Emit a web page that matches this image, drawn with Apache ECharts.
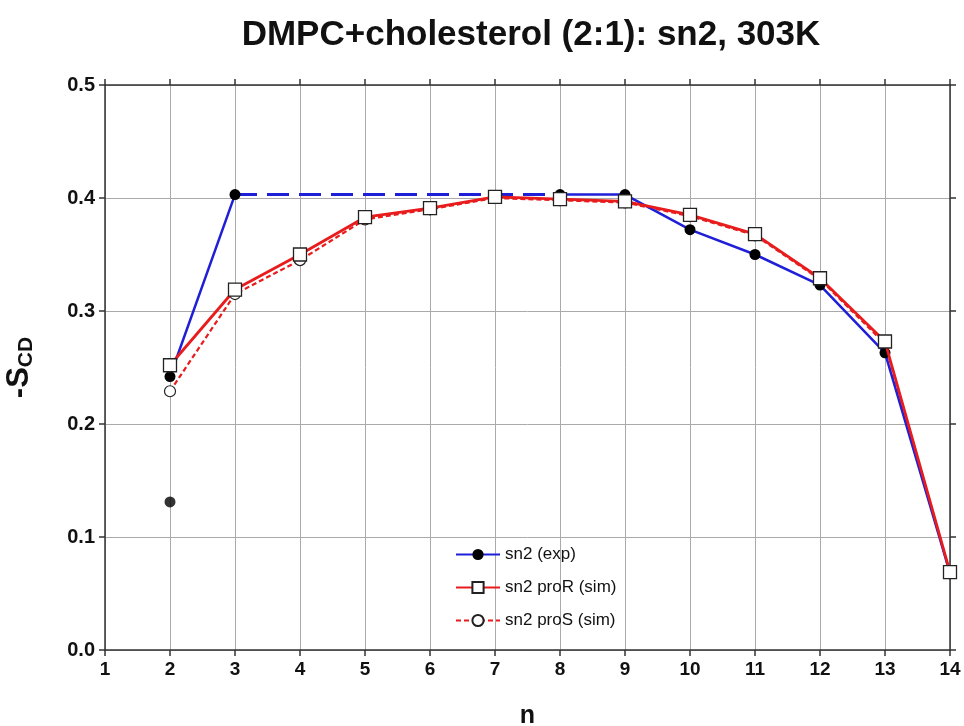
<!DOCTYPE html>
<html><head><meta charset="utf-8">
<script src="https://cdn.jsdelivr.net/npm/echarts@6/dist/echarts.min.js"></script>
<style>html,body{margin:0;padding:0;background:#fff}#c{width:964px;height:726px}</style>
</head><body><div id="c"></div>
<script>
const nExp = [2, 3, 8, 9, 10, 11, 12, 13, 14];
const sExp = [0.242, 0.403, 0.403, 0.403, 0.372, 0.350, 0.323, 0.263, 0.068];
const nExpDash = [3, 8];
const sExpDash = [0.403, 0.403];
const nExpExtra = [2];
const sExpExtra = [0.131];
const nSim = [2, 3, 4, 5, 6, 7, 8, 9, 10, 11, 12, 13, 14];
const sProR = [0.252, 0.319, 0.350, 0.383, 0.391, 0.401, 0.399, 0.397, 0.385, 0.368, 0.329, 0.273, 0.069];
const sProS = [0.229, 0.315, 0.345, 0.381, 0.390, 0.400, 0.398, 0.396, 0.384, 0.367, 0.328, 0.271, 0.068];

const pair = (xs, ys) => xs.map((x, i) => [x, ys[i]]);
const expSolid = [[nExp[0], sExp[0]], [nExp[1], sExp[1]], '-'].concat(pair(nExp.slice(2), sExp.slice(2)));

const font = 'Liberation Sans';
const axisCol = '#333';
const chart = echarts.init(document.getElementById('c'));
chart.setOption({
  animation: false,
  backgroundColor: '#fff',
  title: {
    text: 'DMPC+cholesterol (2:1): sn2, 303K',
    left: 526, textAlign: 'center', top: 13,
    textStyle: {fontFamily: font, fontSize: 35, fontWeight: 'bold', color: '#111'}
  },
  grid: {left: 105, right: 14, top: 85, bottom: 76, containLabel: false, outerBoundsMode: 'none'},
  legend: {
    data: ['sn2 (exp)', 'sn2 proR (sim)', 'sn2 proS (sim)'],
    orient: 'vertical', left: 450, top: 541,
    itemWidth: 44, itemHeight: 14, itemGap: 16,
    textStyle: {fontFamily: font, fontSize: 17, color: '#111'}
  },
  xAxis: [{
    type: 'value', min: 1, max: 14, interval: 1,
    name: 'n', nameLocation: 'middle', nameGap: 54,
    nameTextStyle: {fontFamily: font, fontSize: 25, fontWeight: 'bold', color: '#111'},
    axisLine: {show: true, onZero: false, lineStyle: {color: axisCol, width: 1.5}},
    axisTick: {show: true, length: 6, lineStyle: {color: axisCol, width: 1.5}},
    axisLabel: {fontFamily: font, fontSize: 19, fontWeight: 'bold', color: '#111', margin: 10},
    splitLine: {show: true, lineStyle: {color: '#aaa', width: 1}}
  }, {
    type: 'value', min: 1, max: 14, interval: 1, position: 'top',
    axisLine: {show: true, onZero: false, lineStyle: {color: axisCol, width: 1.5}},
    axisTick: {show: true, length: 6, lineStyle: {color: axisCol, width: 1.5}},
    axisLabel: {show: false}, splitLine: {show: false}
  }],
  yAxis: [{
    type: 'value', min: 0, max: 0.5, interval: 0.1,
    name: '{a|-S}{b|CD}', nameLocation: 'middle', nameGap: 68, nameRotate: 90,
    nameTextStyle: {
      rich: {
        a: {fontFamily: font, fontSize: 31, fontWeight: 'bold', color: '#111'},
        b: {fontFamily: font, fontSize: 21, fontWeight: 'bold', color: '#111', verticalAlign: 'bottom', padding: [14, 0, 0, 0]}
      }
    },
    axisLine: {show: true, onZero: false, lineStyle: {color: axisCol, width: 1.5}},
    axisTick: {show: true, length: 6, lineStyle: {color: axisCol, width: 1.5}},
    axisLabel: {fontFamily: font, fontSize: 20, fontWeight: 'bold', color: '#111', margin: 10,
      formatter: v => v.toFixed(1)},
    splitLine: {show: true, lineStyle: {color: '#aaa', width: 1}}
  }, {
    type: 'value', min: 0, max: 0.5, interval: 0.1, position: 'right',
    axisLine: {show: true, onZero: false, lineStyle: {color: axisCol, width: 1.5}},
    axisTick: {show: true, length: 6, lineStyle: {color: axisCol, width: 1.5}},
    axisLabel: {show: false}, splitLine: {show: false}
  }],
  series: [
    {
      name: 'sn2 proS (sim)', type: 'line', data: pair(nSim, sProS),
      symbol: 'circle', symbolSize: 11, z: 2,
      lineStyle: {color: '#e81c1c', width: 2.2, type: [5, 3]},
      itemStyle: {color: '#fff', borderColor: '#222', borderWidth: 1.2}
    },
    {
      name: 'sn2 exp dashed', type: 'line', data: pair(nExpDash, sExpDash),
      symbol: 'none', z: 3,
      lineStyle: {color: '#1f1fd8', width: 3, type: [22, 10]}
    },
    {
      name: 'sn2 (exp)', type: 'line', data: expSolid, connectNulls: false,
      symbol: 'circle', symbolSize: 11, z: 3,
      lineStyle: {color: '#1f1fd8', width: 2.5},
      itemStyle: {color: '#000', borderColor: '#000', borderWidth: 0}
    },
    {
      name: 'sn2 exp extra', type: 'scatter', data: pair(nExpExtra, sExpExtra),
      symbol: 'circle', symbolSize: 11, z: 3,
      itemStyle: {color: '#000'}
    },
    {
      name: 'sn2 proR (sim)', type: 'line', data: pair(nSim, sProR),
      symbol: 'rect', symbolSize: 13, z: 4,
      lineStyle: {color: '#e81c1c', width: 2.8},
      itemStyle: {color: '#fff', borderColor: '#222', borderWidth: 1.3}
    }
  ]
});
</script></body></html>
